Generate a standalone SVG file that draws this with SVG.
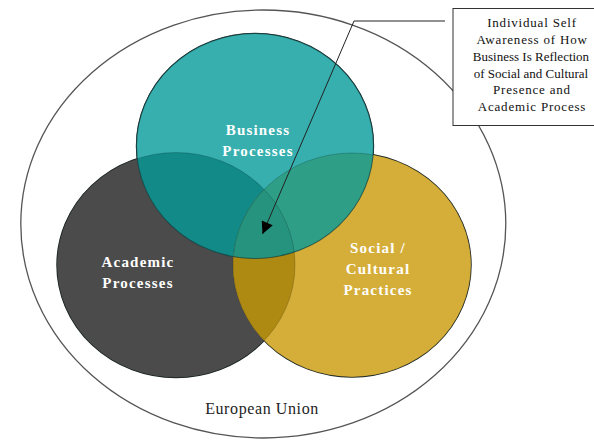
<svg xmlns="http://www.w3.org/2000/svg" width="594" height="441" viewBox="0 0 594 441">
<style>
.lbl{font-family:"Liberation Serif","Times New Roman",serif;font-weight:bold;font-size:15px;fill:#ffffff;text-anchor:middle;letter-spacing:1.2px}
.note{font-family:"Liberation Serif","Times New Roman",serif;font-size:13px;fill:#111;text-anchor:middle;letter-spacing:0.8px}
.eu{font-family:"Liberation Serif","Times New Roman",serif;font-size:16px;fill:#222;text-anchor:middle;letter-spacing:0.6px}
.edge{fill:none;stroke:#1c2a2a;stroke-width:1.4}
.inner{fill:none;stroke:#000;stroke-width:1;stroke-opacity:0.18}
.conn{fill:none;stroke:#222;stroke-width:1}
</style>
<defs>
<clipPath id="cA"><ellipse cx="176" cy="265" rx="119" ry="112.5"/></clipPath>
<clipPath id="cB"><ellipse cx="255" cy="146" rx="118.5" ry="112.5"/></clipPath>
<marker id="ah" viewBox="0 0 10 10" refX="10" refY="5" markerWidth="14" markerHeight="12" markerUnits="userSpaceOnUse" orient="auto">
<path d="M0,0 L10,5 L0,10 z" fill="#000"/>
</marker>
</defs>
<rect width="594" height="441" fill="#ffffff"/>
<g id="eu">
<ellipse cx="263.3" cy="224" rx="242.5" ry="214" fill="none" stroke="#555" stroke-width="1.3"/>
<text class="eu" x="262" y="414">European Union</text>
</g>
<g id="outlines">
<ellipse class="edge" cx="176" cy="265" rx="119" ry="112.5"/>
<ellipse class="edge" cx="352" cy="265" rx="119" ry="112"/>
<ellipse class="edge" cx="255" cy="146" rx="118.5" ry="112.5"/>
</g>
<g id="academic">
<ellipse cx="176" cy="265" rx="119" ry="112.5" fill="#4b4b4b"/>
</g>
<g id="social">
<ellipse cx="352" cy="265" rx="119" ry="112" fill="#d5ae39"/>
</g>
<g id="business">
<ellipse cx="255" cy="146" rx="118.5" ry="112.5" fill="#36afae"/>
</g>
<g id="overlaps">
<g clip-path="url(#cA)">
<ellipse cx="255" cy="146" rx="118.5" ry="112.5" fill="#118a88"/>
<ellipse cx="352" cy="265" rx="119" ry="112" fill="#ae8a13"/>
</g>
<g clip-path="url(#cB)">
<ellipse cx="352" cy="265" rx="119" ry="112" fill="#2f9e86"/>
</g>
<g clip-path="url(#cA)"><g clip-path="url(#cB)">
<ellipse cx="352" cy="265" rx="119" ry="112" fill="#26937f"/>
</g></g>
<ellipse class="inner" cx="176" cy="265" rx="119" ry="112.5"/>
<ellipse class="inner" cx="352" cy="265" rx="119" ry="112"/>
<ellipse fill="none" stroke="#0f2e2e" stroke-width="1.1" stroke-opacity="0.6" cx="255" cy="146" rx="118.5" ry="112.5"/>
</g>
<g id="labels">
<text class="lbl" x="258" y="134.5">Business</text>
<text class="lbl" x="258" y="155.5">Processes</text>
<text class="lbl" x="138" y="267">Academic</text>
<text class="lbl" x="138" y="288">Processes</text>
<text class="lbl" x="378" y="253">Social /</text>
<text class="lbl" x="378" y="274">Cultural</text>
<text class="lbl" x="378" y="295">Practices</text>
</g>
<g id="connectors">
<polyline class="conn" points="445,21 354,21 262.5,234" marker-end="url(#ah)"/>
</g>
<g id="note">
<rect x="453" y="8.5" width="160" height="117" fill="#ffffff" stroke="#333" stroke-width="1"/>
<text class="note" x="532" y="27">Individual Self</text>
<text class="note" x="532" y="44">Awareness of How</text>
<text class="note" x="531" y="61" style="letter-spacing:0">Business Is Reflection</text>
<text class="note" x="531" y="77.5" style="letter-spacing:0">of Social and Cultural</text>
<text class="note" x="532" y="94">Presence and</text>
<text class="note" x="532" y="111">Academic Process</text>
</g>
</svg>
